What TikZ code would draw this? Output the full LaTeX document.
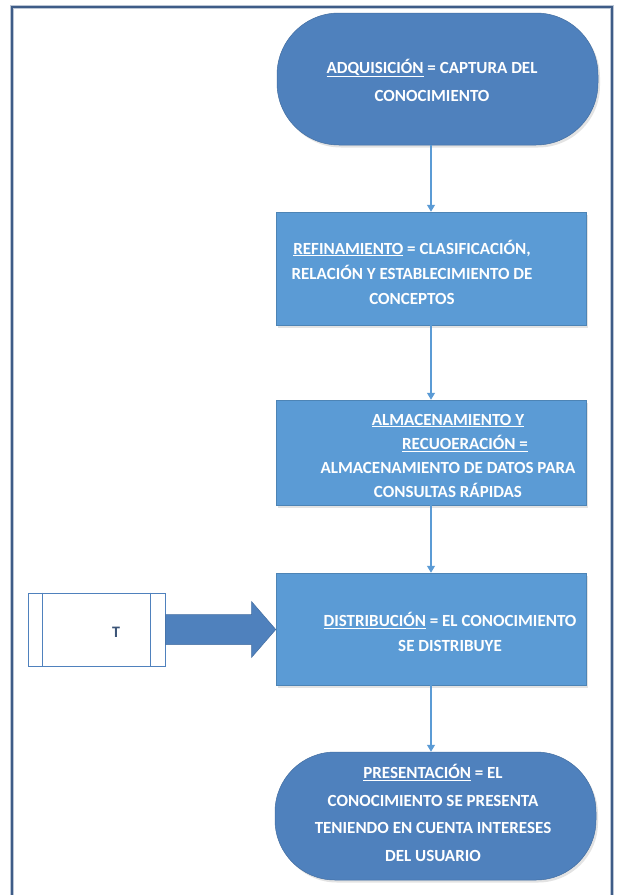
\documentclass[tikz,border=0pt]{standalone}
\usepackage{fontspec}
\setmainfont{Carlito}
\usetikzlibrary{calc,arrows.meta,shadows}
\definecolor{termc}{RGB}{79,129,189}
\definecolor{procc}{RGB}{91,155,213}
\definecolor{framec}{RGB}{62,92,135}
\definecolor{connc}{RGB}{91,155,213}
\definecolor{tcol}{RGB}{60,85,120}
\begin{document}
\begin{tikzpicture}[x=1pt,y=-1pt,
  shad/.style={drop shadow={opacity=0.22,shadow xshift=2pt,shadow yshift=-2.5pt}},
  termbox/.style={draw=termc!85!black, line width=0.5pt, fill=termc, rounded corners=62pt, inner sep=0pt, shad},
  procbox/.style={draw=procc!85!black, line width=0.5pt, fill=procc, inner sep=0pt, shad},
  lbl/.style={text=white, align=center, inner sep=0pt, font=\bfseries\fontsize{17}{25}\selectfont},
  conn/.style={draw=connc, line width=1.2pt, -{Triangle[length=7pt,width=8pt]}},
]
\useasboundingbox (0,0) rectangle (621,895);
\fill[white] (0,0) rectangle (621,895);
% frame
\coordinate (fbl) at (12,897);
\coordinate (ftl) at (12,7);
\coordinate (ftr) at (612,7);
\coordinate (fbr) at (612,897);
\draw[framec!35, line width=3.5pt] (fbl) -- (ftl) -- (ftr) -- (fbr);
\draw[framec, line width=1.6pt] (fbl) -- (ftl) -- (ftr) -- (fbr);

% shapes
\node[termbox, minimum width=321pt, minimum height=132pt] (T1) at (437.5,79) {};
\node[procbox, minimum width=310pt, minimum height=113pt] (B2) at (431,268.5) {};
\node[procbox, minimum width=310pt, minimum height=105pt] (B3) at (431,452.5) {};
\node[procbox, minimum width=310pt, minimum height=112pt] (B4) at (431,629) {};
\node[termbox, minimum width=321pt, minimum height=128pt, rounded corners=60pt] (T5) at (435.5,816) {};

% texts
\node[lbl, font=\bfseries\fontsize{17}{28}\selectfont] (t1) at (432,80) {\underline{ADQUISICIÓN} = CAPTURA DEL\\CONOCIMIENTO};
\node[lbl] (t2) at (412,272) {\underline{REFINAMIENTO} = CLASIFICACIÓN,\\RELACIÓN Y ESTABLECIMIENTO DE\\CONCEPTOS};
\node[lbl, font=\bfseries\fontsize{17}{24.3}\selectfont] (t3) at (448,456) {\underline{ALMACENAMIENTO Y}\\\hspace*{34pt}\underline{RECUOERACIÓN =}\\ALMACENAMIENTO DE DATOS PARA\\CONSULTAS RÁPIDAS};
\node[lbl] (t4) at (450,632) {\underline{DISTRIBUCIÓN} = EL CONOCIMIENTO\\SE DISTRIBUYE};
\node[lbl, font=\bfseries\fontsize{17}{27.7}\selectfont] (t5) at (433,813) {\underline{PRESENTACIÓN} = EL\\CONOCIMIENTO SE PRESENTA\\TENIENDO EN CUENTA INTERESES\\DEL USUARIO};

% connectors
\draw[conn] (B2.north |- T1.south) -- (B2.north);
\draw[conn] (B2.south) -- (B3.north);
\draw[conn] (B3.south) -- (B4.north);
\draw[conn] (B4.south) -- (T5.north -| B4.south);

% left predefined-process box
\node[draw=termc, line width=1pt, fill=white, minimum width=137pt, minimum height=73pt, inner sep=0pt] (L) at (96.5,629.5) {};
\draw[termc, line width=1pt] ($(L.north west)+(15,0)$) -- ($(L.south west)+(15,0)$);
\draw[termc, line width=1pt] ($(L.north east)+(-15,0)$) -- ($(L.south east)+(-15,0)$);
\node[text=tcol, font=\bfseries\fontsize{16}{18}\selectfont, inner sep=0pt] (Lt) at (116,632) {T};

% block arrow
\fill[termc, draw=termc!85!black, line width=0.5pt]
  ($(L.east)+(0,-15)$) -- ($(L.east)+(86,-15)$) -- ($(L.east)+(86,-28)$)
  -- (B4.west |- L.east) -- ($(L.east)+(86,28)$) -- ($(L.east)+(86,15)$)
  -- ($(L.east)+(0,15)$) -- cycle;
\end{tikzpicture}
\end{document}
